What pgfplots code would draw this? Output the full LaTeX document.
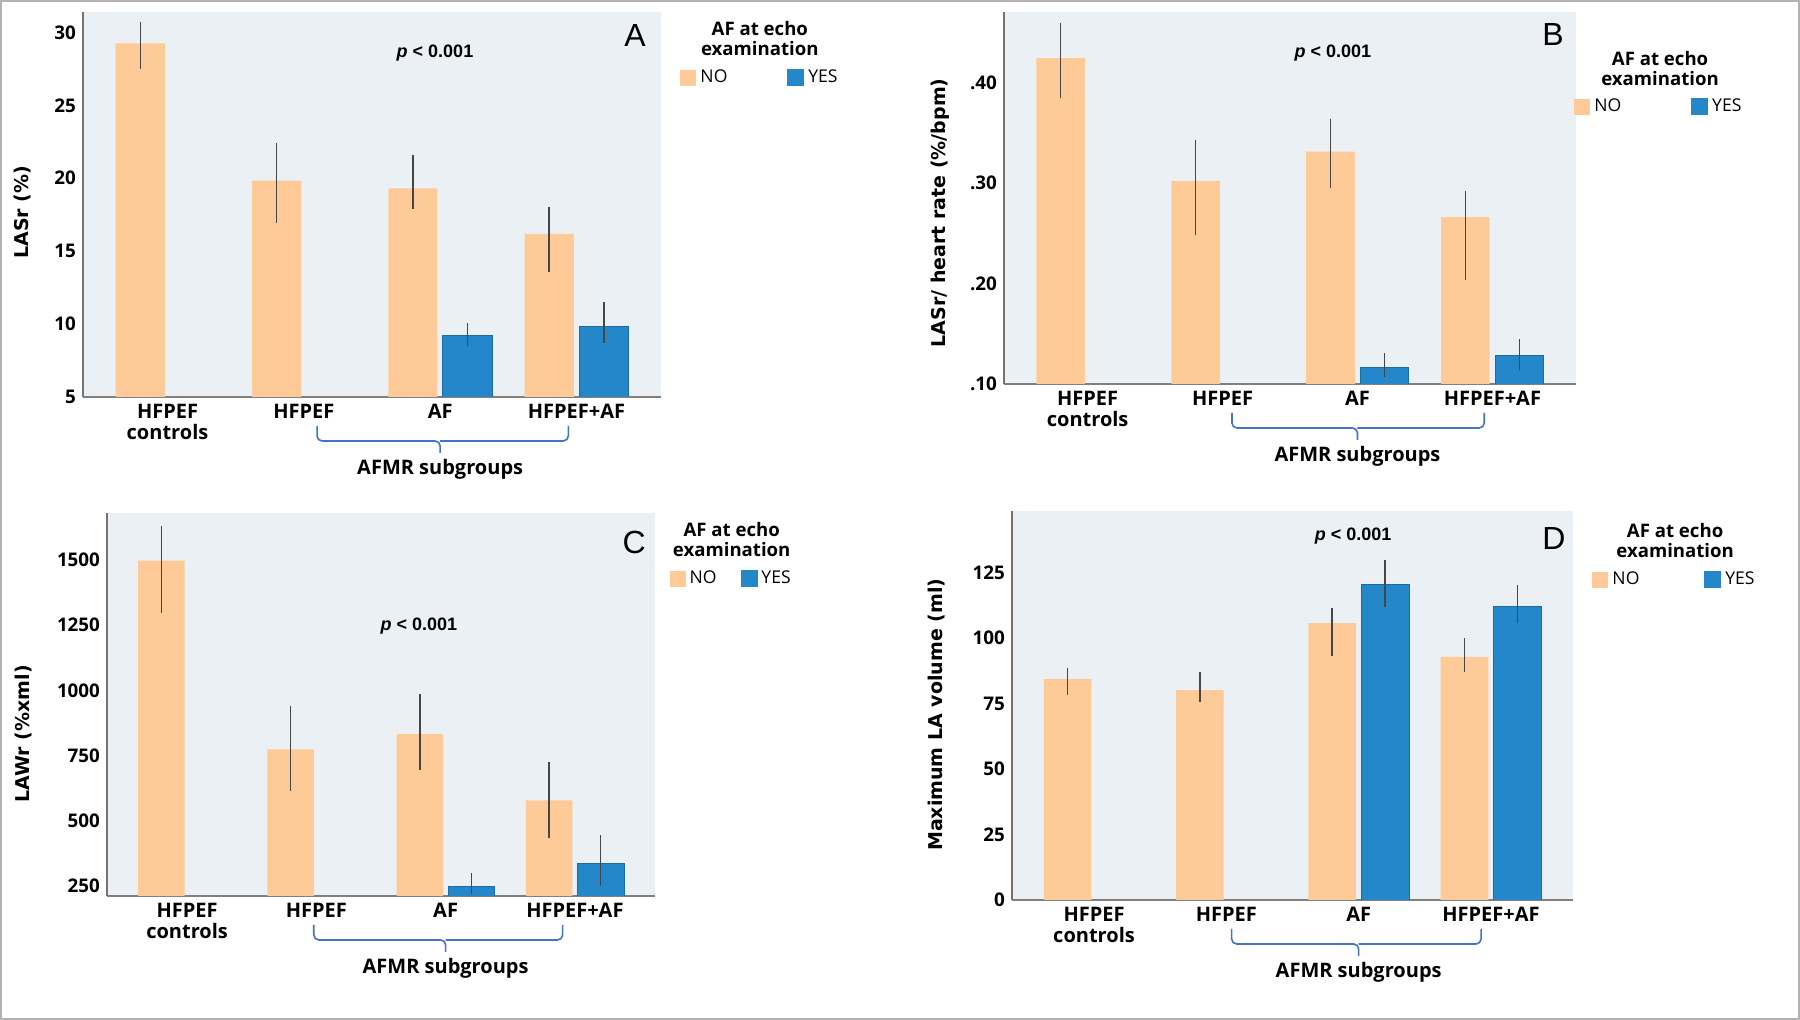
\documentclass[border=0pt]{standalone}
\usepackage{pgfplots}
\pgfplotsset{compat=1.18}
\usepackage{pgfplotstable}
\usepackage{fontspec}
\setmainfont{Open Sans}
\newfontfamily\vera{DejaVu Sans}
\newfontfamily\arial{Liberation Sans}

\definecolor{bgpanel}{RGB}{235,240,245}
\definecolor{nocol}{RGB}{254,202,152}
\definecolor{yescol}{RGB}{35,135,202}
\definecolor{braceblue}{RGB}{68,114,196}
\definecolor{errgray}{RGB}{70,70,70}

% x = group, y = mean, ep/em = upper/lower error
\pgfplotstableread{
x y ep em
0 29.25 1.45 1.75
1 19.84 2.56 2.94
2 19.30 2.30 1.40
3 16.18 1.82 2.58
}\aNo
\pgfplotstableread{
x y ep em
2 9.20 0.87 0.70
3 9.86 1.64 1.16
}\aYes
\pgfplotstableread{
x y ep em
0 0.424 0.035 0.0395
1 0.302 0.041 0.054
2 0.331 0.033 0.036
3 0.266 0.026 0.063
}\bNo
\pgfplotstableread{
x y ep em
2 0.1165 0.0145 0.0095
3 0.128 0.017 0.014
}\bYes
\pgfplotstableread{
x y ep em
0 1497 134 200
1 774 168 159
2 832 155 136
3 578 146 145
}\cNo
\pgfplotstableread{
x y ep em
2 250 51 32
3 336 110 86
}\cYes
\pgfplotstableread{
x y ep em
0 84.5 4.3 6.1
1 80.2 6.9 4.6
2 105.8 5.6 12.5
3 92.9 7.1 5.8
}\dNo
\pgfplotstableread{
x y ep em
2 120.6 9.1 8.8
3 112.1 8.2 6.4
}\dYes

\pgfplotsset{
  panel/.style={
    scale only axis,
    anchor=south west,
    xmin=-0.62, xmax=3.62,
    xtick={0,1,2,3},
    xticklabels={{HFPEF\\controls},HFPEF,AF,HFPEF+AF},
    axis x line*=bottom, axis y line*=left,
    axis line style={-},
    x axis line style={draw=gray, line width=1pt},
    y axis line style={draw=gray!90!black, line width=0.7pt},
    major tick length=0pt,
    axis background/.style={fill=bgpanel},
    clip mode=individual,
    xticklabel style={align=center, font=\bfseries\fontsize{10}{10.5}\selectfont},
    yticklabel style={font=\bfseries\fontsize{9.4}{10}\selectfont, /pgf/number format/1000 sep={}},
    /pgf/number format/assume math mode=true,
    legend cell align=left,
  },
  % bars are placed at group -/+ 0.2 so the error bars sit on their centres
  nobar/.style={ybar, bar width=0.36, bar shift=0pt, fill=nocol, draw=none,
    legend image code/.code={\fill[nocol] (0pt,-4pt) rectangle (8pt,4pt);},
    error bars/.cd, y dir=both, y explicit, error mark=none,
    error bar style={errgray, line width=0.75pt}},
  yesbar/.style={ybar, bar width=0.36, bar shift=0pt, fill=yescol, draw=yescol!80!black, line width=0.4pt,
    legend image code/.code={\fill[yescol] (0pt,-4pt) rectangle (8pt,4pt);},
    error bars/.cd, y dir=both, y explicit, error mark=none,
    error bar style={errgray, line width=0.75pt}},
  ylab/.style 2 args={every axis y label/.style={at={(rel axis cs:#1,#2)}, rotate=90, anchor=center,
    font=\vera\bfseries\fontsize{9.5}{11}\selectfont}},
  leg/.style n args={3}{legend style={at={(rel axis cs:#1,#2)}, anchor=west, draw=none, fill=none,
    inner sep=0pt, legend columns=2, font=\fontsize{8.8}{10}\selectfont,
    /tikz/every even column/.append style={column sep=#3}}},
}

\newcommand{\afmr}[3]{%
  \draw[braceblue, line width=0.8pt, rounded corners=2.5pt]
    ([yshift=-14.5pt]axis cs:#2,#1) |- ([yshift=-22pt]axis cs:2,#1) -- ([yshift=-28pt]axis cs:2,#1);
  \draw[braceblue, line width=0.8pt, rounded corners=2.5pt]
    ([yshift=-14.5pt]axis cs:#3,#1) |- ([yshift=-22pt]axis cs:2,#1);
  \node[font=\bfseries\fontsize{10}{10.5}\selectfont] at ([yshift=-36pt]axis cs:2,#1) {AFMR subgroups};
}
\newcommand{\legtitle}[2]{\node[font=\bfseries\fontsize{9.3}{10}\selectfont, align=center]
  at (rel axis cs:#1,#2) {AF at echo\\examination};}
\newcommand{\pval}[2]{\node[font=\arial\bfseries\fontsize{9}{10}\selectfont]
  at (rel axis cs:#1,#2) {\textit{p} < 0.001};}
\newcommand{\letter}[3]{\node[font=\arial\fontsize{16}{18}\selectfont]
  at (rel axis cs:#1,#2) {#3};}

\begin{document}
\begin{tikzpicture}
\useasboundingbox (0,0) rectangle (900pt,510pt);
\draw[gray!60, line width=1pt] (0.5pt,0.5pt) rectangle (899.5pt,509.5pt);

% A
\begin{axis}[panel, at={(41.5pt,311.5pt)}, width=289pt, height=192.5pt,
  ymin=5, ymax=31.4, ytick={5,10,...,30},
  ylabel={LASr (\%)}, ylab={-0.104}{0.48},
  leg={1.033}{0.829}{28pt}]
\addplot[nobar] table[x expr=\thisrow{x}-0.2, y=y, y error plus=ep, y error minus=em] {\aNo};
\addlegendentry{NO}
\addplot[yesbar] table[x expr=\thisrow{x}+0.2, y=y, y error plus=ep, y error minus=em] {\aYes};
\addlegendentry{YES}
\legtitle{1.171}{0.932}
\pval{0.609}{0.894}
\letter{0.955}{0.94}{A}
\afmr{5}{1.097}{2.94}
\end{axis}

% B
\begin{axis}[panel, at={(502pt,318pt)}, width=286pt, height=186pt,
  ymin=0.1, ymax=0.47, ytick={0.1,0.2,0.3,0.4}, yticklabels={.10,.20,.30,.40},
  ylabel={LASr/ heart rate (\%/bpm)}, ylab={-0.112}{0.46},
  leg={0.9965}{0.745}{33pt}]
\addplot[nobar] table[x expr=\thisrow{x}-0.2, y=y, y error plus=ep, y error minus=em] {\bNo};
\addlegendentry{NO}
\addplot[yesbar] table[x expr=\thisrow{x}+0.2, y=y, y error plus=ep, y error minus=em] {\bYes};
\addlegendentry{YES}
\legtitle{1.147}{0.849}
\pval{0.575}{0.89}
\letter{0.96}{0.94}{B}
\afmr{0.1}{1.07}{2.94}
\end{axis}

% C
\begin{axis}[panel, at={(53.5pt,62pt)}, width=274pt, height=191.5pt,
  ymin=212, ymax=1680, ytick={250,500,...,1500},
  ylabel={LAWr (\%xml)}, ylab={-0.153}{0.423},
  leg={1.026}{0.828}{10pt}]
\addplot[nobar] table[x expr=\thisrow{x}-0.2, y=y, y error plus=ep, y error minus=em] {\cNo};
\addlegendentry{NO}
\addplot[yesbar] table[x expr=\thisrow{x}+0.2, y=y, y error plus=ep, y error minus=em] {\cYes};
\addlegendentry{YES}
\legtitle{1.14}{0.93}
\pval{0.569}{0.705}
\letter{0.962}{0.924}{C}
\afmr{212}{0.98}{2.905}
\end{axis}

% D
\begin{axis}[panel, at={(506pt,60pt)}, width=280.5pt, height=194.5pt,
  ymin=0, ymax=148.6, ytick={0,25,...,125},
  ylabel={Maximum LA volume (ml)}, ylab={-0.134}{0.476},
  leg={1.034}{0.823}{30.5pt}]
\addplot[nobar] table[x expr=\thisrow{x}-0.2, y=y, y error plus=ep, y error minus=em] {\dNo};
\addlegendentry{NO}
\addplot[yesbar] table[x expr=\thisrow{x}+0.2, y=y, y error plus=ep, y error minus=em] {\dYes};
\addlegendentry{YES}
\legtitle{1.182}{0.923}
\pval{0.608}{0.936}
\letter{0.966}{0.93}{D}
\afmr{0}{1.04}{2.925}
\end{axis}
\end{tikzpicture}
\end{document}
